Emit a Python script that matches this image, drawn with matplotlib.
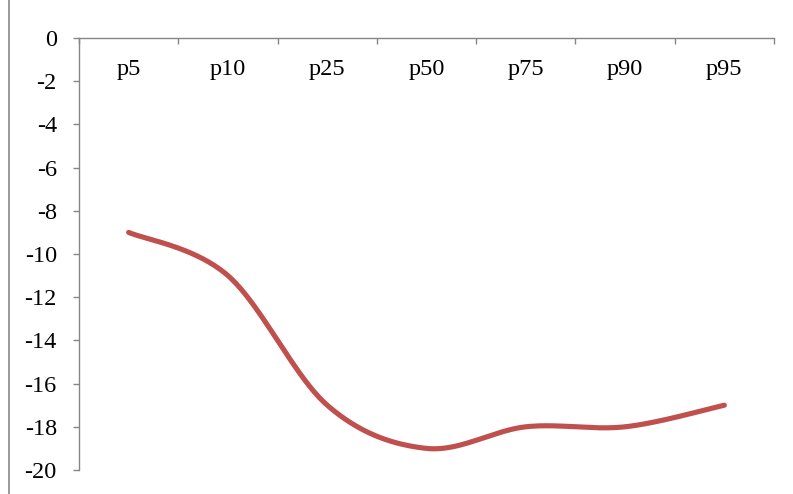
import numpy as np
import matplotlib
matplotlib.use("Agg")
import matplotlib.pyplot as plt
from matplotlib.lines import Line2D

# ── Data ──────────────────────────────────────────────
categories = ["p5", "p10", "p25", "p50", "p75", "p90", "p95"]
values     = [-9, -11, -17, -19, -18, -18, -17]
yticks     = [0, -2, -4, -6, -8, -10, -12, -14, -16, -18, -20]

LINE_COLOR = "#C0504D"
AXIS_COLOR = "#868686"
FONT = "Liberation Serif"
FS = 17.5


def smooth_curve(xs, ys, n=40):
    # Excel-like smoothed line: Catmull-Rom through the points, as cubic Bezier
    pts = np.column_stack([xs, ys]).astype(float)
    ext = np.vstack([pts[0], pts, pts[-1]])
    out = []
    t = np.linspace(0, 1, n)[:, None]
    for i in range(1, len(ext) - 2):
        p0, p1, p2, p3 = ext[i - 1], ext[i], ext[i + 1], ext[i + 2]
        c1 = p1 + (p2 - p0) / 6
        c2 = p2 - (p3 - p1) / 6
        seg = ((1 - t) ** 3) * p1 + 3 * ((1 - t) ** 2) * t * c1 \
            + 3 * (1 - t) * t ** 2 * c2 + t ** 3 * p2
        out.append(seg if i == 1 else seg[1:])
    seg = np.vstack(out)
    return seg[:, 0], seg[:, 1]


fig = plt.figure(figsize=(7.93, 4.94), dpi=100)
ax = fig.add_axes([79 / 793, 1 - 470 / 494, (774 - 79) / 793, (470 - 38) / 494])

x = np.arange(len(categories))
sx, sy = smooth_curve(x, values)
ax.plot(sx, sy, color=LINE_COLOR, lw=3.7, solid_capstyle="round", solid_joinstyle="round")

ax.set_xlim(-0.5, len(categories) - 0.5)
ax.set_ylim(-20, 0)

# spines: x axis sits at y=0 (top), y axis on the left
for s in ["right", "bottom"]:
    ax.spines[s].set_visible(False)
for s in ["top", "left"]:
    ax.spines[s].set_color(AXIS_COLOR)
    ax.spines[s].set_linewidth(1.0)

ax.xaxis.tick_top()
ax.set_xticks(np.arange(len(categories) + 1) - 0.5)
ax.tick_params(axis="x", direction="in", length=4.5, width=1.0, color=AXIS_COLOR,
               labeltop=False, labelbottom=False)
for i, c in enumerate(categories):
    ax.text(i, -1.45, c, ha="center", va="center", fontsize=FS, family=FONT)

ax.set_yticks(yticks)
ax.set_yticklabels([str(v) for v in yticks], fontsize=FS, family=FONT)
ax.tick_params(axis="y", direction="out", length=4, width=1.0, color=AXIS_COLOR, pad=12)

# chart border on the left edge
fig.add_artist(Line2D([8.5 / 793, 8.5 / 793], [0, 1], color=AXIS_COLOR, lw=1.2))

fig.savefig("out.png", dpi=100)
